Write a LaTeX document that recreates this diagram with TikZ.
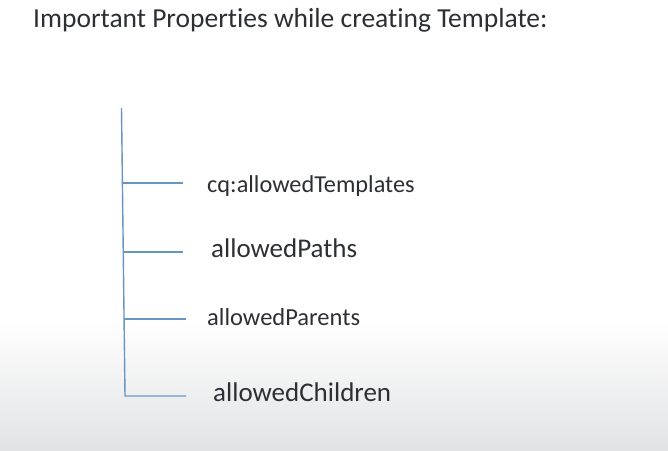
\documentclass[tikz,border=0pt]{standalone}
\usepackage{fontspec}
\setmainfont{Carlito}[Ligatures=NoCommon]
\usepackage{xcolor}
\usepackage{tikz}
\definecolor{treeblue}{RGB}{104,150,196}
\definecolor{textgray}{RGB}{45,47,52}
\definecolor{bgbottom}{RGB}{226,227,229}

\begin{document}
\begin{tikzpicture}[x=1pt, y=-1pt, every node/.style={inner sep=0pt, text=textgray, anchor=base west}]
    \useasboundingbox (0,0) rectangle (668,450);
    \fill[white] (0,0) rectangle (668,450);
    \shade[top color=white, bottom color=bgbottom] (0,320) rectangle (668,450);

    \node (title) at (33,27) {\fontsize{27.5}{32}\selectfont Important Properties while creating Template:};

    \node (templates) at (207,192) {\fontsize{24.3}{28}\selectfont cq:allowedTemplates};
    \node (paths) at (211,257) {\fontsize{27}{31}\selectfont allowedPaths};
    \node (parents) at (207,325) {\fontsize{24.5}{28}\selectfont allowedParents};
    \node (children) at (213,401) {\fontsize{27}{31}\selectfont allowedChildren};

    \coordinate (top) at (121.5,108);
    \coordinate (b1) at (122.4,183);
    \coordinate (b2) at (123.2,252);
    \coordinate (b3) at (124.1,319);
    \coordinate (b4) at (125,396);

    \draw[treeblue, line width=1.4pt] (top) -- (b4) -- ++(61,0);
    \draw[treeblue, line width=1.4pt] (b1) -- ++(60.6,0);
    \draw[treeblue, line width=1.4pt] (b2) -- ++(59.8,0);
    \draw[treeblue, line width=1.4pt] (b3) -- ++(61.9,0);
\end{tikzpicture}
\end{document}
